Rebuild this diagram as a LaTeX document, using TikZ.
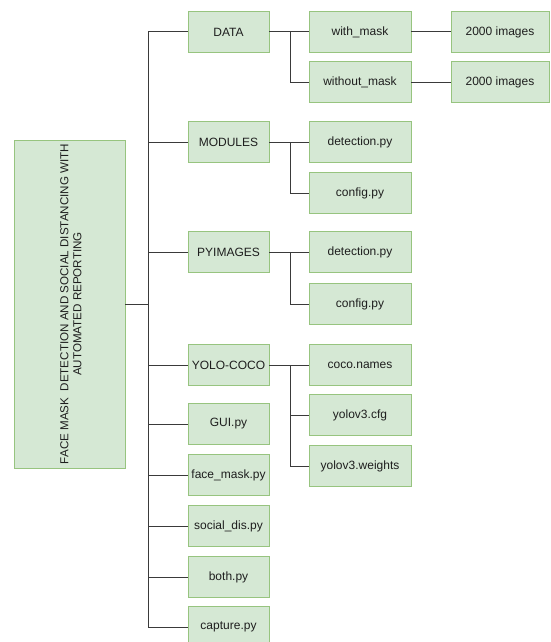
\documentclass[tikz,border=0pt]{standalone}
\usepackage{fontspec}
\setmainfont{Liberation Sans}
\begin{document}
\begin{tikzpicture}[x=1pt,y=-1pt,
  box/.style={draw=boxline, fill=boxfill, line width=0.9pt, inner sep=0pt,
    minimum height=41pt, text=textc, font=\fontsize{12}{14}\selectfont},
  lvlone/.style={box, minimum width=81pt},
  lvltwo/.style={box, minimum width=102pt},
  lvlthree/.style={box, minimum width=98pt},
  conn/.style={draw=linec, line width=1pt}]
\definecolor{boxline}{HTML}{97C47F}
\definecolor{boxfill}{HTML}{D5E8D4}
\definecolor{linec}{HTML}{3A3A3A}
\definecolor{textc}{HTML}{1E1E1E}
\useasboundingbox[fill=white] (0,0) rectangle (550,642);

% root
\node[box, minimum width=111pt, minimum height=328pt] (root) at (69.5,304) {};
\node[rotate=90, align=center, text=textc, inner sep=0pt,
  font=\fontsize{11.6}{13}\selectfont] (roottext) at (71,304)
  {FACE MASK\ \ DETECTION AND SOCIAL DISTANCING WITH\\AUTOMATED REPORTING};

% level one
\node[lvlone] (data) at (228.5,32) {DATA};
\node[lvlone] (modules) at (228.5,142) {MODULES};
\node[lvlone] (pyimages) at (228.5,252) {PYIMAGES};
\node[lvlone] (yolo) at (228.5,365) {YOLO-COCO};
\node[lvlone] (gui) at (228.5,424) {GUI.py};
\node[lvlone] (facemask) at (228.5,475) {face\_mask.py};
\node[lvlone] (socialdis) at (228.5,526) {social\_dis.py};
\node[lvlone] (both) at (228.5,577) {both.py};
\node[lvlone] (capture) at (228.5,627) {capture.py};

% level two
\node[lvltwo] (withmask) at (360,32) {with\_mask};
\node[lvltwo] (withoutmask) at (360,82) {without\_mask};
\node[lvltwo] (moddet) at (360,142) {detection.py};
\node[lvltwo] (modcfg) at (360,193) {config.py};
\node[lvltwo] (pydet) at (360,252) {detection.py};
\node[lvltwo] (pycfg) at (360,304) {config.py};
\node[lvltwo] (coconames) at (360,365) {coco.names};
\node[lvltwo] (yolocfg) at (360,415) {yolov3.cfg};
\node[lvltwo] (yoloweights) at (360,466) {yolov3.weights};

% level three
\node[lvlthree] (imgwith) at (500,32) {2000 images};
\node[lvlthree] (imgwithout) at (500,82) {2000 images};

% trunk
\coordinate (trunk) at (148,0);
\coordinate (branch) at (290,0);
\draw[conn] (root.east) -- (root.east -| trunk);
\draw[conn] (data.west -| trunk) -- (capture.west -| trunk);
\foreach \n in {data,modules,pyimages,yolo,gui,facemask,socialdis,both,capture}
  \draw[conn] (\n.west -| trunk) -- (\n.west);

% branches
\draw[conn] (data.east) -- (withmask.west);
\draw[conn] (withmask.west -| branch) |- (withoutmask.west);
\draw[conn] (modules.east) -- (moddet.west);
\draw[conn] (moddet.west -| branch) |- (modcfg.west);
\draw[conn] (pyimages.east) -- (pydet.west);
\draw[conn] (pydet.west -| branch) |- (pycfg.west);
\draw[conn] (yolo.east) -- (coconames.west);
\draw[conn] (coconames.west -| branch) |- (yoloweights.west);
\draw[conn] (yolocfg.west -| branch) -- (yolocfg.west);

% level three links
\draw[conn] (withmask.east) -- (imgwith.west);
\draw[conn] (withoutmask.east) -- (imgwithout.west);
\end{tikzpicture}
\end{document}
